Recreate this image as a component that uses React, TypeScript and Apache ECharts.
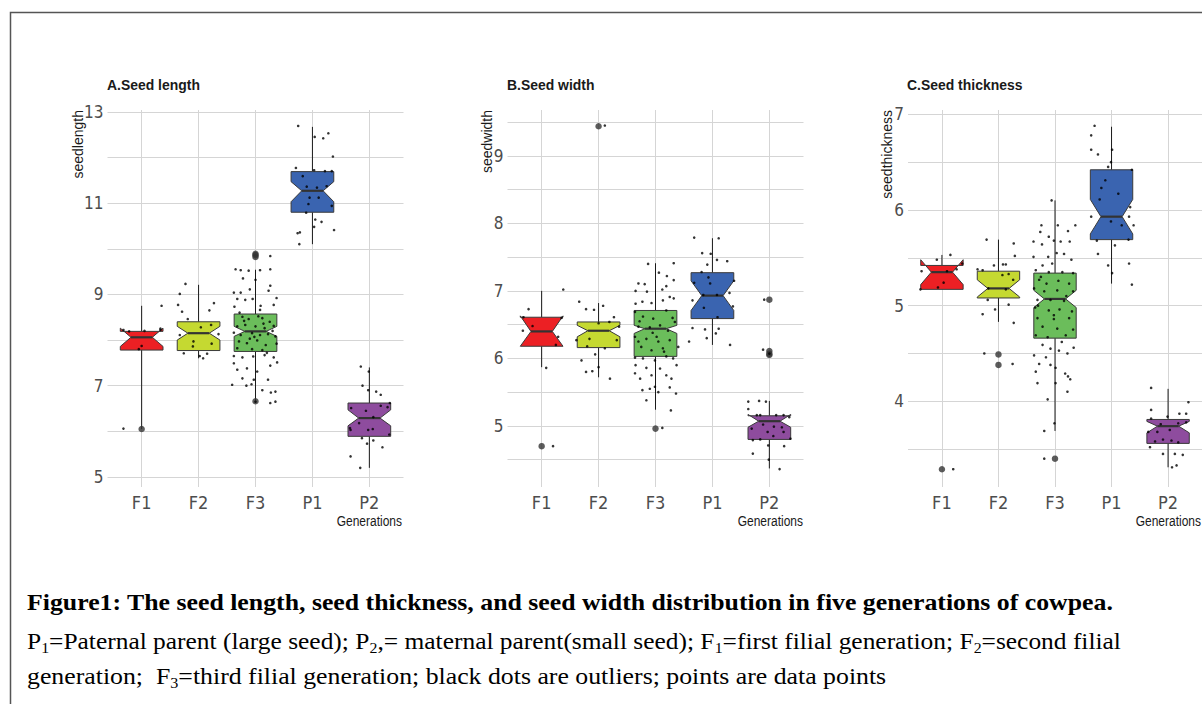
import React, { useEffect, useRef } from 'react';
import * as echarts from 'echarts';

const generations = ['F1', 'F2', 'F3', 'P1', 'P2'];
const boxColors = ['#ec2024', '#c5d931', '#6bbd5b', '#3a64b0', '#8e4c9e'];

// box statistics: [q1, median, q3, notchLow, notchHigh, whiskerLow, whiskerHigh]
const lengthBoxes = [
  [7.78, 8.06, 8.19, 7.86, 8.26, 6.05, 8.75],
  [7.77, 8.15, 8.40, 8.0, 8.30, 7.6, 9.21],
  [7.75, 8.19, 8.57, 8.08, 8.30, 6.68, 9.54],
  [10.8, 11.27, 11.69, 11.03, 11.47, 10.1, 12.67],
  [5.89, 6.29, 6.62, 6.12, 6.47, 5.2, 7.4],
];
const widthBoxes = [
  [6.18, 6.4, 6.61, 6.18, 6.63, 5.87, 7.0],
  [6.16, 6.41, 6.54, 6.32, 6.49, 5.72, 6.82],
  [6.03, 6.44, 6.71, 6.37, 6.49, 5.24, 7.41],
  [6.59, 6.93, 7.27, 6.71, 7.15, 6.2, 7.78],
  [4.8, 5.07, 5.15, 4.98, 5.17, 4.37, 5.37],
];
const thicknessBoxes = [
  [5.17, 5.35, 5.42, 5.22, 5.48, 5.17, 5.53],
  [5.08, 5.18, 5.36, 5.09, 5.27, 4.83, 5.69],
  [4.66, 5.07, 5.34, 4.98, 5.16, 3.69, 6.1],
  [5.69, 5.93, 6.42, 5.75, 6.11, 5.23, 6.87],
  [3.56, 3.74, 3.81, 3.67, 3.79, 3.31, 4.13],
];

// outliers: [generation index, value]
const lengthOutliers = [[0, 6.05], [2, 9.82], [2, 9.86], [2, 9.89], [2, 6.66]];
const widthOutliers = [[0, 4.7], [1, 9.44], [2, 4.96], [4, 6.87], [4, 6.11], [4, 6.07], [4, 6.05]];
const thicknessOutliers = [[0, 3.29], [1, 4.49], [1, 4.38], [2, 3.4]];

// jittered data points: [horizontal jitter, value]
const lengthF1 = [[-0.32, 6.06], [0.35, 8.75], [0, 7.87], [0.05, 8.2], [-0.32, 8.22], [-0.22, 8.19], [0.33, 8.22], [0.33, 8.25], [-0.05, 7.8]];
const lengthF2 = [[-0.23, 9.23], [-0.33, 9.01], [-0.36, 8.77], [-0.29, 8.62], [0.27, 8.81], [0.19, 8.65], [-0.19, 8.46], [0.04, 8.28], [0.22, 8.33], [-0.33, 8.11], [-0.09, 7.97], [0.23, 7.92], [-0.26, 7.71], [0.02, 7.65], [0.08, 7.6], [0.15, 7.7], [0.35, 8.13], [-0.1, 7.86]];
const lengthF3 = [[0.26, 9.84], [-0.35, 9.55], [-0.26, 9.53], [-0.12, 9.52], [0.08, 9.53], [0.26, 9.55], [-0.22, 9.35], [0, 9.32], [0.26, 9.19], [-0.38, 9.04], [-0.26, 9.04], [-0.1, 9.11], [0.23, 9.08], [0.37, 8.92], [-0.32, 8.9], [-0.18, 8.88], [-0.05, 8.9], [0.09, 8.75], [0.32, 8.77], [-0.37, 8.73], [0.08, 8.66], [-0.23, 8.51], [-0.12, 8.46], [0.12, 8.48], [0.25, 8.4], [-0.32, 8.3], [-0.18, 8.33], [0, 8.3], [0.16, 8.26], [0.32, 8.31], [-0.38, 8.16], [-0.26, 8.11], [-0.06, 8.15], [0.08, 8.11], [0.22, 8.13], [0.35, 8.08], [-0.29, 7.97], [-0.15, 7.93], [0.03, 7.99], [0.18, 7.89], [0.37, 7.92], [-0.32, 7.82], [-0.06, 7.8], [0.12, 7.78], [-0.38, 7.65], [-0.23, 7.62], [-0.04, 7.64], [0.16, 7.67], [0.32, 7.62], [-0.38, 7.49], [-0.32, 7.35], [-0.15, 7.38], [0.03, 7.31], [0.26, 7.44], [0.38, 7.51], [-0.41, 7.02], [-0.23, 7.16], [-0.16, 7.0], [-0.03, 7.13], [0.22, 7.13], [0.12, 6.9], [0.27, 6.85], [0.35, 6.87], [0.26, 6.62], [0.35, 6.65], [0, 6.65], [-0.07, 7.03], [-0.2, 8.42], [0.05, 8.52], [0.3, 8.2], [-0.1, 8.03], [0.2, 7.72], [-0.28, 8.6], [0.14, 8.36], [-0.02, 8.07]];
const lengthP1 = [[-0.25, 12.69], [0.04, 12.45], [0.19, 12.42], [0.28, 12.53], [0.36, 12.02], [-0.29, 11.77], [-0.17, 11.59], [0.03, 11.72], [0.22, 11.7], [0.34, 11.7], [-0.1, 11.36], [0.08, 11.34], [0.25, 11.37], [-0.05, 11.12], [0.11, 11.12], [-0.07, 10.98], [0.34, 10.94], [-0.11, 10.79], [0.05, 10.64], [0.16, 10.59], [0.03, 10.48], [0.38, 10.41], [-0.22, 10.36], [-0.26, 10.34], [-0.23, 10.1]];
const lengthP2 = [[-0.15, 7.42], [-0.01, 7.31], [-0.12, 7.0], [0.12, 6.87], [0.2, 6.8], [-0.02, 6.9], [-0.32, 6.51], [-0.06, 6.45], [0.2, 6.56], [0.32, 6.53], [0.36, 6.62], [0.07, 6.31], [-0.33, 6.03], [-0.18, 6.18], [-0.02, 6.03], [0.06, 6.05], [0.35, 5.93], [-0.13, 5.85], [-0.04, 5.73], [0.07, 5.8], [0.23, 5.65], [-0.33, 5.45], [-0.16, 5.2], [-0.34, 6.07]];

const widthF1 = [[0.2, 4.7], [0.38, 7.02], [-0.23, 6.73], [-0.32, 6.61], [-0.16, 6.48], [-0.33, 6.41], [0.25, 6.2], [0.29, 6.32], [0.08, 5.86], [0.35, 6.6]];
const widthF2 = [[0.11, 9.45], [-0.34, 6.84], [-0.22, 6.73], [-0.08, 6.72], [0.08, 6.78], [0.27, 6.61], [0, 6.52], [0.19, 6.54], [-0.39, 6.27], [-0.16, 6.29], [0.36, 6.47], [0.32, 6.27], [-0.2, 6.18], [0.11, 6.15], [-0.06, 6.06], [-0.3, 5.97], [0, 5.87], [-0.22, 5.8], [-0.11, 5.81], [0.2, 5.7]];
const widthF3 = [[-0.13, 7.4], [0.32, 7.41], [0.06, 7.27], [0.2, 7.22], [0.32, 7.16], [-0.3, 7.11], [-0.19, 7.1], [0.19, 7.07], [-0.35, 7.0], [-0.15, 6.99], [0.12, 7.02], [0.32, 6.89], [-0.35, 6.81], [-0.23, 6.84], [-0.07, 6.82], [0.13, 6.86], [0.25, 6.91], [-0.36, 6.69], [-0.22, 6.62], [-0.04, 6.59], [0.19, 6.71], [0.34, 6.54], [-0.3, 6.47], [-0.1, 6.46], [0.08, 6.49], [0.22, 6.41], [-0.36, 6.32], [-0.16, 6.29], [0.02, 6.32], [0.25, 6.27], [0.4, 6.17], [-0.25, 6.17], [-0.07, 6.12], [0.13, 6.15], [-0.36, 6.01], [-0.22, 6.0], [-0.01, 5.97], [0.19, 6.03], [0.31, 6.0], [-0.35, 5.9], [-0.16, 5.86], [0.08, 5.85], [0.37, 5.9], [-0.36, 5.78], [-0.27, 5.7], [-0.07, 5.75], [0.19, 5.75], [0.28, 5.7], [-0.01, 5.58], [-0.1, 5.55], [0.05, 5.5], [-0.23, 5.53], [0.25, 5.57], [0.36, 5.48], [-0.16, 5.38], [0.27, 5.23], [0.12, 4.97], [-0.28, 6.55], [0.05, 6.25], [0.3, 6.6], [-0.05, 6.38], [0.15, 6.1], [-0.3, 6.25]];
const widthP1 = [[-0.32, 7.79], [0.11, 7.78], [-0.18, 7.56], [-0.03, 7.55], [-0.09, 7.39], [0.08, 7.46], [0.26, 7.44], [-0.19, 7.28], [-0.32, 7.12], [-0.07, 7.2], [-0.04, 7.11], [0.38, 7.15], [-0.16, 6.94], [0.08, 6.94], [0.3, 6.97], [-0.35, 6.86], [-0.15, 6.75], [0.36, 6.77], [0.09, 6.61], [-0.35, 6.45], [-0.13, 6.43], [0.11, 6.44], [0.06, 6.37], [-0.1, 6.3], [-0.41, 6.25], [0.31, 6.2]];
const widthP2 = [[-0.09, 6.87], [-0.11, 6.13], [0, 6.07], [-0.37, 5.36], [-0.18, 5.37], [-0.06, 5.36], [-0.37, 5.25], [-0.22, 5.16], [-0.16, 5.16], [0.12, 5.16], [0.25, 5.16], [0.35, 5.13], [-0.31, 4.96], [-0.11, 5.02], [0.08, 4.99], [0.22, 4.98], [-0.03, 4.91], [0.07, 4.85], [0.25, 4.91], [0.37, 4.81], [-0.29, 4.79], [-0.16, 4.8], [-0.02, 4.71], [-0.29, 4.59], [0.26, 4.7], [-0.01, 4.5], [0.18, 4.36]];

const thicknessF1 = [[0.2, 3.29], [-0.09, 5.48], [0.15, 5.53], [-0.36, 5.36], [0.09, 5.36], [0.03, 5.24], [-0.07, 5.19], [-0.38, 5.17], [0.26, 5.38], [0.36, 5.44]];
const thicknessF2 = [[-0.21, 5.69], [0.27, 5.65], [0.29, 5.52], [-0.08, 5.42], [0.08, 5.43], [0.13, 5.43], [-0.37, 5.38], [-0.28, 5.37], [0.07, 5.32], [0.18, 5.33], [0.26, 5.27], [-0.18, 5.18], [0.13, 5.17], [-0.19, 5.06], [-0.06, 4.96], [0.18, 5.01], [-0.28, 4.91], [0.27, 4.82], [-0.25, 4.5], [0.25, 4.39]];
const thicknessF3 = [[-0.06, 6.1], [-0.24, 5.84], [0.05, 5.84], [0.36, 5.84], [0.23, 5.78], [-0.26, 5.77], [-0.11, 5.72], [-0.38, 5.67], [-0.23, 5.64], [-0.02, 5.68], [0.1, 5.67], [0.26, 5.67], [-0.38, 5.51], [-0.12, 5.51], [0.03, 5.55], [0.16, 5.54], [0.29, 5.48], [-0.22, 5.42], [-0.05, 5.44], [-0.34, 5.37], [-0.11, 5.35], [0.13, 5.35], [0.32, 5.34], [-0.28, 5.27], [-0.15, 5.23], [0.06, 5.26], [0.25, 5.23], [-0.37, 5.18], [-0.19, 5.15], [0.04, 5.16], [0.32, 5.15], [-0.31, 5.06], [-0.08, 5.06], [0.16, 5.05], [-0.35, 4.98], [-0.11, 4.95], [0.08, 4.96], [0.3, 4.94], [-0.31, 4.87], [-0.02, 4.86], [0.25, 4.87], [-0.22, 4.78], [0.04, 4.76], [0.32, 4.75], [-0.34, 4.69], [-0.13, 4.67], [0.19, 4.69], [-0.22, 4.59], [-0.08, 4.55], [0.07, 4.53], [0.33, 4.56], [-0.37, 4.48], [-0.16, 4.46], [0.22, 4.5], [-0.28, 4.39], [-0.08, 4.38], [0.01, 4.35], [-0.34, 4.31], [0.18, 4.29], [0.23, 4.26], [-0.31, 4.19], [0.01, 4.19], [0.27, 4.23], [0.22, 4.1], [-0.13, 4.02], [-0.01, 3.77], [-0.19, 3.69], [-0.19, 3.4], [-0.25, 5.3], [0.2, 5.1], [-0.02, 4.9], [0.12, 4.62], [-0.3, 5.0]];
const thicknessP1 = [[-0.3, 6.88], [-0.36, 6.78], [-0.36, 6.63], [-0.24, 6.58], [0.01, 6.63], [-0.01, 6.5], [-0.06, 6.45], [0.36, 6.42], [-0.11, 6.31], [-0.18, 6.23], [0.12, 6.17], [-0.21, 6.11], [0.33, 6.03], [-0.36, 5.93], [-0.01, 5.88], [0.31, 5.93], [0.18, 5.84], [0.39, 5.84], [-0.26, 5.68], [0.3, 5.69], [0.06, 5.63], [-0.24, 5.54], [-0.06, 5.42], [0.31, 5.44], [0.01, 5.34], [0.36, 5.22]];
const thicknessP2 = [[-0.3, 4.14], [0.36, 3.99], [-0.3, 3.91], [0.2, 3.87], [0.32, 3.87], [-0.01, 3.84], [-0.3, 3.82], [-0.13, 3.76], [0.18, 3.77], [0.32, 3.78], [-0.19, 3.68], [0.03, 3.7], [-0.35, 3.68], [-0.09, 3.6], [0.06, 3.59], [0.18, 3.57], [-0.23, 3.58], [-0.32, 3.52], [-0.09, 3.45], [0.12, 3.45], [0.26, 3.44], [0.07, 3.31], [0.15, 3.33]];

// axis ticks and grid lines
const lengthTicks = [5, 7, 9, 11, 13];
const lengthLines = [5, 6, 7, 8, 9, 10, 11, 12, 13];
const widthTicks = [5, 6, 7, 8, 9];
const widthLines = [4.5, 5, 5.5, 6, 6.5, 7, 7.5, 8, 8.5, 9, 9.5];
const thicknessTicks = [4, 5, 6, 7];
const thicknessLines = [3.5, 4, 4.5, 5, 5.5, 6, 6.5, 7];
const genPositions = [0, 1, 2, 3, 4];

const NARROW = "'Liberation Sans Narrow', 'Arial Narrow', 'DejaVu Sans Condensed', 'Liberation Sans', sans-serif";
const SANS = "'Liberation Sans', Arial, sans-serif";
const SERIF = "'Liberation Serif', 'Times New Roman', serif";
const GRID_COLOR = '#d5d5d5';

const panels = [
  { boxes: lengthBoxes, outliers: lengthOutliers, points: [lengthF1, lengthF2, lengthF3, lengthP1, lengthP2], ticks: lengthTicks, lines: lengthLines, min: 4.78, max: 13.04, left: 107.5 },
  { boxes: widthBoxes, outliers: widthOutliers, points: [widthF1, widthF2, widthF3, widthP1, widthP2], ticks: widthTicks, lines: widthLines, min: 4.095, max: 9.68, left: 507.5 },
  { boxes: thicknessBoxes, outliers: thicknessOutliers, points: [thicknessF1, thicknessF2, thicknessF3, thicknessP1, thicknessP2], ticks: thicknessTicks, lines: thicknessLines, min: 3.104, max: 7.045, left: 908 },
];

function renderNotchedBox(params: any, api: any) {
  const k = api.value(0);
  const q1 = api.value(1), med = api.value(2), q3 = api.value(3);
  const nlo = api.value(4), nhi = api.value(5), wlo = api.value(6), whi = api.value(7);
  const hw = 0.375;
  const ind = 0.1875;
  const xmin = k - hw, xmax = k + hw;
  const P = (x: number, y: number) => api.coord([x, y]);
  const poly = [
    P(xmin, q3), P(xmin, nhi), P(xmin + ind, med), P(xmin, nlo), P(xmin, q1),
    P(xmax, q1), P(xmax, nlo), P(xmax - ind, med), P(xmax, nhi), P(xmax, q3),
  ];
  const c = P(k, q3), cTop = P(k, whi), c1 = P(k, q1), cBot = P(k, wlo);
  const m1 = P(xmin + ind, med), m2 = P(xmax - ind, med);
  return {
    type: 'group',
    children: [
      { type: 'line', shape: { x1: c[0], y1: c[1], x2: cTop[0], y2: cTop[1] }, style: { stroke: '#1a1a1a', lineWidth: 1 } },
      { type: 'line', shape: { x1: c1[0], y1: c1[1], x2: cBot[0], y2: cBot[1] }, style: { stroke: '#1a1a1a', lineWidth: 1 } },
      { type: 'polygon', shape: { points: poly }, style: { fill: boxColors[params.dataIndex], stroke: '#3a3a3a', lineWidth: 1 } },
      { type: 'line', shape: { x1: m1[0], y1: m1[1], x2: m2[0], y2: m2[1] }, style: { stroke: '#333333', lineWidth: 2.2 } },
    ],
  };
}

function buildOption() {
  const grid: any[] = [];
  const xAxis: any[] = [];
  const yAxis: any[] = [];
  const series: any[] = [];
  panels.forEach((p, i) => {
    grid.push({ left: p.left, top: 110, width: 296, height: 377 });
    xAxis.push({
      type: 'value', gridIndex: i, min: -0.6, max: 4.6,
      axisLine: { show: false },
      axisTick: { show: false, customValues: genPositions },
      axisLabel: { customValues: genPositions, formatter: (v: number) => generations[Math.round(v)], color: '#4d4d4d', fontSize: 18, fontFamily: NARROW, margin: 6 },
      splitLine: { show: true, lineStyle: { color: GRID_COLOR, width: 1 } },
    });
    yAxis.push({
      type: 'value', gridIndex: i, min: p.min, max: p.max,
      axisLine: { show: false },
      axisTick: { show: false, customValues: p.lines },
      axisLabel: { customValues: p.ticks, color: '#4d4d4d', fontSize: 17, fontFamily: NARROW, margin: 4 },
      splitLine: { show: true, lineStyle: { color: GRID_COLOR, width: 1 } },
    });
    series.push({
      type: 'custom', xAxisIndex: i, yAxisIndex: i, z: 2,
      renderItem: renderNotchedBox,
      encode: { x: 0, y: [1, 2, 3, 4, 5, 6, 7] },
      data: p.boxes.map((b, k) => [k, ...b]),
      silent: true,
    });
    series.push({
      type: 'scatter', xAxisIndex: i, yAxisIndex: i, z: 3,
      symbolSize: 6.5, itemStyle: { color: '#333333' },
      data: p.outliers, silent: true,
    });
    const pts: number[][] = [];
    p.points.forEach((arr, k) => arr.forEach(([off, v]) => pts.push([k + off, v])));
    series.push({
      type: 'scatter', xAxisIndex: i, yAxisIndex: i, z: 4,
      symbolSize: 2.6, itemStyle: { color: '#000000' },
      data: pts, silent: true,
    });
  });

  const titles = ['A.Seed length', 'B.Seed width', 'C.Seed thickness'];
  const titleX = [107, 507, 907];
  const yNames = ['seedlength', 'seedwidth', 'seedthickness'];
  const yNameX = [78, 487, 887];
  const genX = [402, 803, 1201];

  const graphic: any[] = [
    { type: 'polyline', shape: { points: [[10.5, 704], [10.5, 12.5], [1202, 12.5]] }, style: { stroke: '#555555', lineWidth: 1.5, fill: 'none' } },
  ];
  titles.forEach((t, i) => {
    graphic.push({ type: 'text', x: titleX[i], y: 85, scaleX: 0.93, style: { text: t, fontSize: 15, fontWeight: 'bold', fontFamily: SANS, fill: '#1a1a1a', align: 'left', verticalAlign: 'middle' } });
    graphic.push({ type: 'text', x: yNameX[i], y: 110, rotation: Math.PI / 2, style: { text: yNames[i], fontSize: 14, fontFamily: SANS, fill: '#1a1a1a', align: 'right', verticalAlign: 'middle' } });
    graphic.push({ type: 'text', x: genX[i], y: 521, scaleX: 0.8, style: { text: 'Generations', fontSize: 15, fontFamily: SANS, fill: '#1a1a1a', align: 'right', verticalAlign: 'middle' } });
  });
  const sub = { fontSize: 15, fontFamily: SERIF, fill: '#000', verticalAlign: 'bottom', lineHeight: 18 };
  graphic.push({ type: 'text', x: 27, y: 601.5, scaleX: 1.075, style: { text: 'Figure1: The seed length, seed thickness, and seed width distribution in five generations of cowpea.', fontSize: 24, fontWeight: 'bold', fontFamily: SERIF, fill: '#000', align: 'left', verticalAlign: 'middle' } });
  graphic.push({ type: 'text', x: 27, y: 641, scaleX: 1.06, style: { text: 'P{s|1}=Paternal parent (large seed); P{s|2},= maternal parent(small seed); F{s|1}=first filial generation; F{s|2}=second filial', fontSize: 24, lineHeight: 28, fontFamily: SERIF, fill: '#000', align: 'left', verticalAlign: 'middle', rich: { s: sub } } });
  graphic.push({ type: 'text', x: 27, y: 676, scaleX: 1.075, style: { text: 'generation;  F{s|3}=third filial generation; black dots are outliers; points are data points', fontSize: 24, lineHeight: 28, fontFamily: SERIF, fill: '#000', align: 'left', verticalAlign: 'middle', rich: { s: sub } } });

  return { animation: false, backgroundColor: '#ffffff', grid, xAxis, yAxis, series, graphic };
}

export default function App() {
  const ref = useRef<HTMLDivElement>(null);
  useEffect(() => {
    const chart = echarts.init(ref.current!, null, { renderer: 'svg' });
    chart.setOption(buildOption() as any);
    return () => chart.dispose();
  }, []);
  return <div ref={ref} style={{ position: 'absolute', left: 0, top: 0, width: 1202, height: 704, background: '#ffffff' }} />;
}
